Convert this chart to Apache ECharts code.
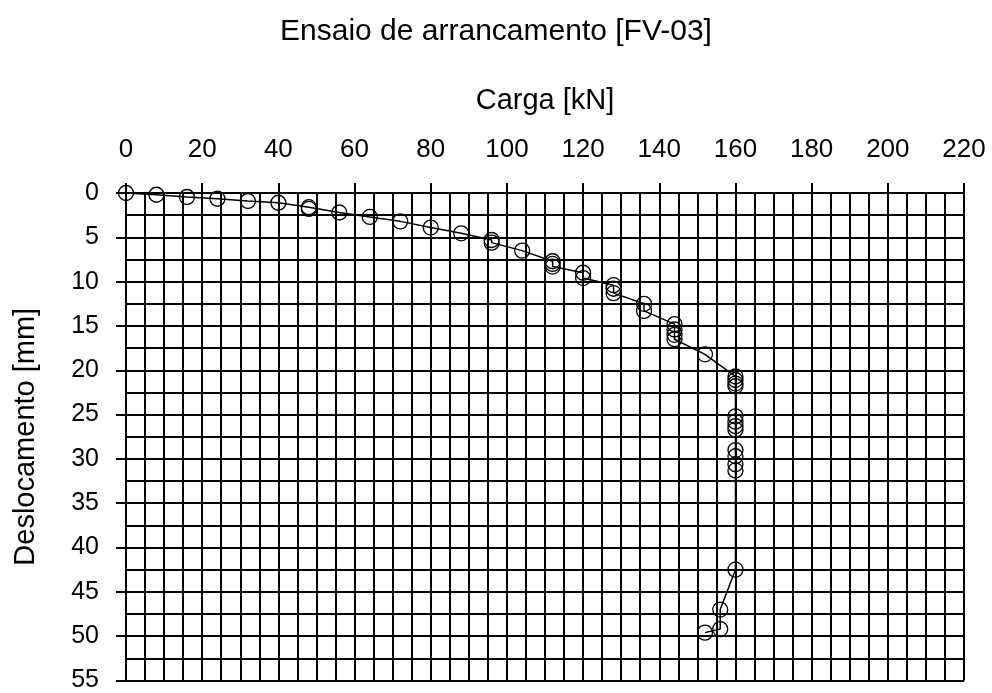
<!DOCTYPE html>
<html>
<head>
<meta charset="utf-8">
<title>Ensaio de arrancamento [FV-03]</title>
<script src="https://cdn.jsdelivr.net/npm/echarts@6/dist/echarts.min.js"></script>
<style>
  html, body { margin: 0; padding: 0; background: #fff; }
  #chart { width: 992px; height: 693px; }
</style>
</head>
<body>
<div id="chart"></div>
<script>
// carga [kN] e deslocamento [mm], na ordem das leituras
var carga = [
    0, 8, 16, 24, 32, 40, 48, 48, 56, 64, 72, 80, 88, 96, 96, 104,
    112, 112, 112, 120, 120, 128, 128, 128, 136, 136,
    144, 144, 144, 144, 152,
    160, 160, 160, 160, 160, 160, 160, 160, 160, 160, 160, 160, 160,
    156, 156, 152
];
var deslocamento = [
    0, 0.2, 0.45, 0.65, 0.9, 1.1, 1.6, 1.8, 2.2, 2.7, 3.2, 3.9, 4.55, 5.3, 5.6, 6.5,
    7.7, 8.0, 8.3, 9.0, 9.6, 10.4, 10.8, 11.3, 12.5, 13.3,
    14.8, 15.4, 16.0, 16.5, 18.2,
    20.7, 21.1, 21.5, 21.8, 25.2, 25.8, 26.3, 26.7, 29.0, 29.7, 30.6, 31.3, 42.5,
    47.0, 49.2, 49.6
];
var xTicks = [0, 20, 40, 60, 80, 100, 120, 140, 160, 180, 200, 220];
var yTicks = [0, 5, 10, 15, 20, 25, 30, 35, 40, 45, 50, 55];

(function () {
    'use strict'

    var fonte = 'Liberation Sans, Arial, sans-serif';
    var preto = '#000';
    var linha = { color: preto, width: 2 };

    var pontos = [];
    carga.forEach(function (c, i) {
        pontos.push([c, deslocamento[i]]);
    });

    var myChart = echarts.init(document.getElementById('chart'));
    var option = {
        backgroundColor: '#fff',
        animation: false,
        title: {
            text: 'Ensaio de arrancamento [FV-03]',
            left: 'center',
            top: 12,
            textStyle: { fontFamily: fonte, fontSize: 30, fontWeight: 'normal', color: preto }
        },
        grid: { left: 126, right: 28, top: 193, bottom: 9 },
        xAxis: {
            type: 'value',
            position: 'top',
            min: xTicks[0],
            max: xTicks[xTicks.length - 1],
            interval: 20,
            name: 'Carga [kN]',
            nameLocation: 'middle',
            nameGap: 78,
            nameTextStyle: { fontFamily: fonte, fontSize: 29, color: preto },
            axisLine: { show: true, lineStyle: linha },
            axisTick: { show: true, inside: false, length: 10, lineStyle: linha },
            axisLabel: { fontFamily: fonte, fontSize: 26, color: preto, margin: 30 },
            splitLine: { show: true, lineStyle: linha },
            minorTick: { show: false, splitNumber: 4 },
            minorSplitLine: { show: true, lineStyle: linha }
        },
        yAxis: {
            type: 'value',
            inverse: true,
            min: yTicks[0],
            max: yTicks[yTicks.length - 1],
            interval: 5,
            name: 'Deslocamento [mm]',
            nameLocation: 'middle',
            nameGap: 86,
            nameTextStyle: { fontFamily: fonte, fontSize: 29, color: preto },
            axisLine: { show: true, lineStyle: linha },
            axisTick: { show: true, inside: false, length: 10, lineStyle: linha },
            axisLabel: { fontFamily: fonte, fontSize: 25, color: preto, margin: 27 },
            splitLine: { show: true, lineStyle: linha },
            minorTick: { show: false, splitNumber: 2 },
            minorSplitLine: { show: true, lineStyle: linha }
        },
        series: [{
            name: 'FV-03',
            type: 'line',
            data: pontos,
            symbol: 'circle',
            symbolSize: 15,
            lineStyle: { color: preto, width: 1.5 },
            itemStyle: { color: 'rgba(0,0,0,0)', borderColor: preto, borderWidth: 1.3 },
            z: 5
        }]
    };
    myChart.setOption(option);
})()
</script>
</body>
</html>
